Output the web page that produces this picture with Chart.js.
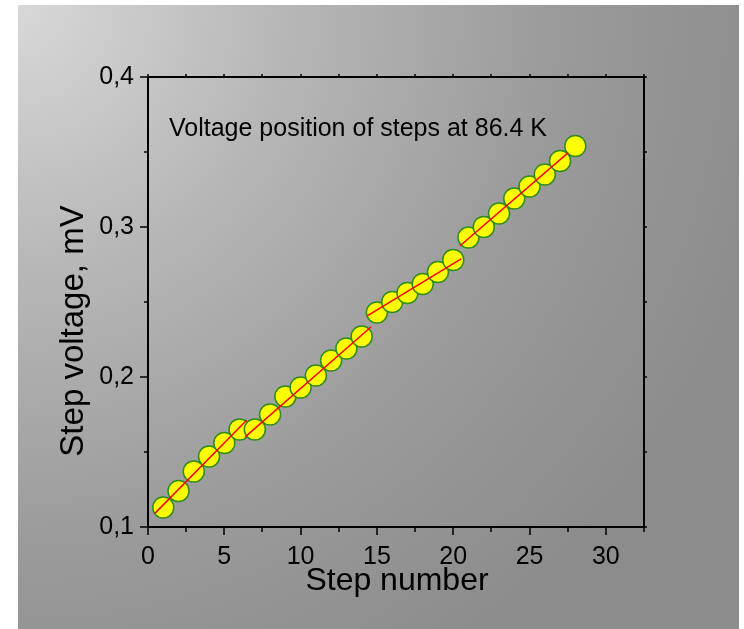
<!DOCTYPE html>
<html>
<head>
<meta charset="utf-8">
<script src="https://cdn.jsdelivr.net/npm/chart.js@4.4.0/dist/chart.umd.min.js"></script>
<style>
html,body{margin:0;padding:0;background:#fff;}
#wrap{width:744px;height:629px;position:relative;}
</style>
</head>
<body>
<div id="wrap"><canvas id="c" width="744" height="629"></canvas></div>
<script>
// ---- data ----
const steps = [1,2,3,4,5,6,7,8,9,10,11,12,13,14,15,16,17,18,19,20,21,22,23,24,25,26,27,28];
const voltages = [0.113,0.124,0.137,0.147,0.156,0.165,0.165,0.175,0.187,0.193,0.201,0.211,0.219,0.227,
                  0.243,0.250,0.256,0.262,0.270,0.278,0.293,0.300,0.309,0.319,0.327,0.335,0.344,0.354];
// red fit segments (start/end)
const fitStartX = [0.45, 6.35, 14.39, 20.45];
const fitEndX   = [6.46, 14.61, 20.52, 27.54];
const fitStartY = [0.1091, 0.1599, 0.2409, 0.2875];
const fitEndY   = [0.1712, 0.2333, 0.2787, 0.3496];
const xTicks = [0,5,10,15,20,25,30];
const yTicks = [0.1,0.2,0.3,0.4];
const chartNote = 'Voltage position of steps at 86.4 K';
const xTitle = 'Step number';
const yTitle = 'Step voltage, mV';

const FONT = '"Liberation Sans", Arial, Helvetica, sans-serif';

const points = steps.map((s,i)=>({x:s, y:voltages[i]}));
const fitSets = fitStartX.map((x0,i)=>({
  type:'line',
  data:[{x:x0,y:fitStartY[i]},{x:fitEndX[i],y:fitEndY[i]}],
  borderColor:'#ff0000',
  borderWidth:1.5,
  pointRadius:0,
  showLine:true,
  fill:false,
  order:0
}));

const decor = {
  id:'decor',
  beforeDraw(chart){
    const ctx = chart.ctx;
    ctx.save();
    ctx.fillStyle = '#ffffff';
    ctx.fillRect(0,0,chart.width,chart.height);
    const g = ctx.createRadialGradient(18,5,0,18,5,780);
    g.addColorStop(0,'#d8d8d8');
    g.addColorStop(0.35,'#b6b6b6');
    g.addColorStop(0.7,'#9a9a9a');
    g.addColorStop(1,'#8c8c8c');
    ctx.fillStyle = g;
    ctx.fillRect(18,5,721,624);
    ctx.restore();
  },
  afterDraw(chart){
    const ctx = chart.ctx;
    const a = chart.chartArea;
    const xs = chart.scales.x, ys = chart.scales.y;
    ctx.save();
    ctx.strokeStyle = '#000';
    ctx.lineWidth = 2;
    ctx.strokeRect(a.left, a.top, a.right-a.left, a.bottom-a.top);
    ctx.lineWidth = 1.5;
    ctx.beginPath();
    // x ticks
    for (let v=0; v<=32.5+1e-9; v+=2.5){
      const px = Math.round(xs.getPixelForValue(v));
      const major = Math.abs(v/5 - Math.round(v/5))<1e-6;
      ctx.moveTo(px, a.bottom); ctx.lineTo(px, a.bottom + (major?8:5));
      ctx.moveTo(px, a.top); ctx.lineTo(px, a.top - 3);
    }
    // y ticks
    for (let k=0; k<=6; k++){
      const v = 0.1 + k*0.05;
      const py = Math.round(ys.getPixelForValue(v));
      const major = k%2===0;
      ctx.moveTo(a.left, py); ctx.lineTo(a.left - (major?8:4), py);
      ctx.moveTo(a.right, py); ctx.lineTo(a.right + 3, py);
    }
    ctx.stroke();
    ctx.fillStyle = '#000';
    // note
    ctx.font = '25px ' + FONT;
    ctx.textAlign = 'left';
    ctx.textBaseline = 'alphabetic';
    ctx.fillText(chartNote, 169, 136);
    // x title
    ctx.font = '32px ' + FONT;
    ctx.textAlign = 'center';
    ctx.fillText(xTitle, 397, 590);
    // y title
    ctx.save();
    ctx.font = '33px ' + FONT;
    ctx.translate(74, 331);
    ctx.rotate(-Math.PI/2);
    ctx.textBaseline = 'middle';
    ctx.fillText(yTitle, 0, 0);
    ctx.restore();
    ctx.restore();
  }
};

new Chart(document.getElementById('c'), {
  type:'scatter',
  data:{
    datasets:[
      ...fitSets,
      {
        type:'scatter',
        data:points,
        backgroundColor:'#ffff00',
        borderColor:'#2e8b1e',
        borderWidth:1.5,
        pointRadius:10.5,
        pointHoverRadius:10.5,
        order:1
      }
    ]
  },
  options:{
    responsive:false,
    animation:false,
    devicePixelRatio:1,
    layout:{padding:{left:0,top:77,right:100,bottom:0}},
    plugins:{legend:{display:false},tooltip:{enabled:false}},
    scales:{
      x:{
        type:'linear', min:0, max:32.5,
        grid:{display:false, drawTicks:false},
        border:{display:false},
        afterFit(s){ s.height = 102; },
        afterBuildTicks(s){ s.ticks = xTicks.map(v=>({value:v})); },
        ticks:{ color:'#000', font:{size:25, family:FONT}, padding:15, maxRotation:0,
                callback:v=>String(v) }
      },
      y:{
        type:'linear', min:0.1, max:0.4,
        grid:{display:false, drawTicks:false},
        border:{display:false},
        afterFit(s){ s.width = 148; },
        afterBuildTicks(s){ s.ticks = yTicks.map(v=>({value:v})); },
        ticks:{ color:'#000', font:{size:25, family:FONT}, padding:14,
                callback:v=>Number(v).toFixed(1).replace('.', ',') }
      }
    }
  },
  plugins:[decor]
});
</script>
</body>
</html>
